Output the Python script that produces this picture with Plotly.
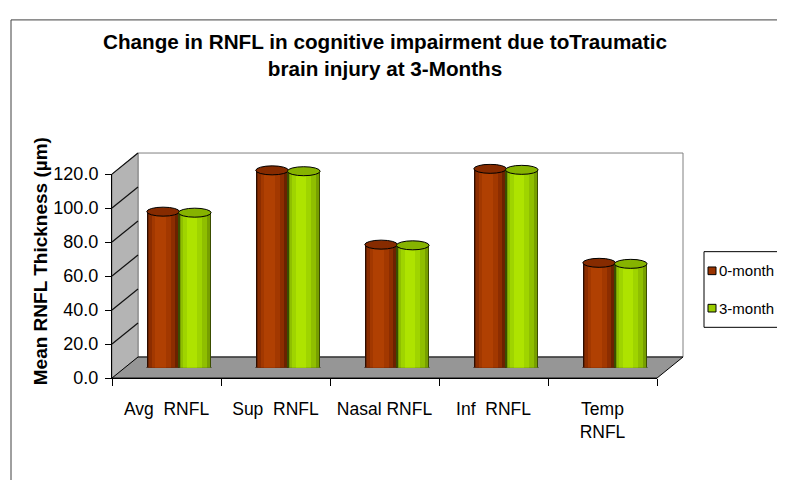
import plotly.graph_objects as go

# data
categories = ["Avg\u00a0 RNFL", "Sup\u00a0 RNFL", "Nasal RNFL", "Inf\u00a0 RNFL", "Temp<br>RNFL"]
series_names = ["0-month", "3-month"]
month0 = [91.7, 116.0, 72.3, 116.9, 61.6]
month3 = [91.1, 115.5, 71.9, 116.3, 61.0]
y_ticks = [0, 20, 40, 60, 80, 100, 120]

title_text = "Change in RNFL in cognitive impairment due toTraumatic<br>brain injury at 3-Months"
y_title = "Mean RNFL Thickness (µm)"

FONT = "Liberation Sans, Arial, sans-serif"
PAGE = 8  # the html body margin shifts the figure by 8px
W, H = 785 - 2 * PAGE, 488 - 2 * PAGE  # keep the figure inside the page body

def px(x):
    return (x - PAGE) / W

def py(y):
    return 1 - (y - PAGE) / H

# 3d box geometry (screen pixels): front plane, depth offset, bar plane halfway
FX0, FX1, FY0, FY1 = 112, 657, 384, 171
DX, DY = 26, -22
BX, BY = 13, -11

# cylinder shading strips: (width fraction, shift fraction, colour)
red_layers = [(1.0, 0.0, "#2e0d00"), (0.92, 0.0, "#6a2200"), (0.78, -0.03, "#8c2d00"),
              (0.58, -0.06, "#a23800"), (0.32, -0.08, "#b04002")]
green_layers = [(1.0, 0.0, "#3a4d00"), (0.92, 0.0, "#779f00"), (0.78, -0.03, "#8fbf00"),
                (0.58, -0.06, "#9fd400"), (0.32, -0.08, "#aee300")]
series = [
    dict(name=series_names[0], vals=month0, off=-0.30, w=0.30, layers=red_layers,
         top="#862b00", bottom="#7a2700", key="#993300"),
    dict(name=series_names[1], vals=month3, off=-0.01, w=0.30, layers=green_layers,
         top="#86b300", bottom="#80aa00", key="#99cc00"),
]

fig = go.Figure()

# invisible trace that carries the front axes (category labels and value ticks)
fig.add_trace(go.Scatter(x=categories, y=month0, mode="markers", marker=dict(opacity=0),
                         showlegend=False, hoverinfo="skip"))

for s in series:
    for wf, sh, col in s["layers"]:
        fig.add_trace(go.Bar(
            x=categories, y=s["vals"], xaxis="x3", yaxis="y3",
            offset=s["off"] + (1 - wf) / 2 * s["w"] + sh * s["w"],
            width=wf * s["w"],
            marker=dict(color=col, line=dict(width=0)),
            showlegend=False, hoverinfo="skip",
        ))

shapes = []
# outer chart border
shapes.append(dict(type="rect", xref="paper", yref="paper", x0=px(11), x1=px(800),
                   y0=py(505), y1=py(10), line=dict(color="#404040", width=1), layer="below"))
# back wall
shapes.append(dict(type="rect", xref="paper", yref="paper", x0=px(FX0 + DX), x1=px(FX1 + DX),
                   y0=py(FY0 + DY), y1=py(FY1 + DY), fillcolor="white",
                   line=dict(color="#808080", width=1), layer="below"))
# left side wall
shapes.append(dict(type="path", xref="paper", yref="paper", layer="below",
                   path=f"M {px(FX0)} {py(FY0)} L {px(FX0)} {py(FY1)} L {px(FX0 + DX)} {py(FY1 + DY)} "
                        f"L {px(FX0 + DX)} {py(FY0 + DY)} Z",
                   fillcolor="#b4b4b4", line=dict(color="#808080", width=1)))
# floor
shapes.append(dict(type="path", xref="paper", yref="paper", layer="below",
                   path=f"M {px(FX0)} {py(FY0)} L {px(FX1)} {py(FY0)} L {px(FX1 + DX)} {py(FY0 + DY)} "
                        f"L {px(FX0 + DX)} {py(FY0 + DY)} Z",
                   fillcolor="#969696", line=dict(color="#000000", width=1)))
# side wall gridlines
ppu = (FY0 - FY1) / 120
for t in y_ticks[1:]:
    yf = FY0 - t * ppu
    shapes.append(dict(type="line", xref="paper", yref="paper", layer="between",
                       x0=px(FX0), y0=py(yf), x1=px(FX0 + DX), y1=py(yf + DY),
                       line=dict(color="#111111", width=1.2)))

# cylinder bottoms and tops
for s in series:
    for i, v in enumerate(s["vals"]):
        x0 = i + s["off"]
        shapes.append(dict(type="circle", xref="x3", yref="y3", x0=x0, x1=x0 + s["w"],
                           ysizemode="pixel", yanchor=0, y0=-4.5, y1=4.5,
                           fillcolor=s["bottom"], line=dict(color="#000000", width=1), layer="between"))
        shapes.append(dict(type="circle", xref="x3", yref="y3", x0=x0, x1=x0 + s["w"],
                           ysizemode="pixel", yanchor=v, y0=-4.5, y1=4.5,
                           fillcolor=s["top"], line=dict(color="#000000", width=1), layer="above"))

# legend box
LX, LT, LB = 704, 252, 331
shapes.append(dict(type="rect", xref="paper", yref="paper", x0=px(LX), x1=px(800),
                   y0=py(LB), y1=py(LT), line=dict(color="#000000", width=1), layer="above"))
annotations = []
for k, s in enumerate(series):
    yc = 272 + k * 39
    shapes.append(dict(type="rect", xref="paper", yref="paper", x0=px(708), x1=px(716),
                       y0=py(yc + 4), y1=py(yc - 4), fillcolor=s["key"],
                       line=dict(color="#000000", width=1), layer="above"))
    annotations.append(dict(xref="paper", yref="paper", x=px(717), y=py(yc), text=s["name"],
                            showarrow=False, xanchor="left", yanchor="middle",
                            font=dict(family=FONT, size=15, color="#000000")))

# value axis title, centred on the whole 3d box
annotations.append(dict(xref="paper", yref="paper", x=px(40), y=py(262), text=y_title,
                        textangle=-90, showarrow=False, xanchor="center", yanchor="middle",
                        font=dict(family=FONT, size=19, weight="bold", color="#000000")))

fig.update_layout(
    width=W, height=H,
    margin=dict(l=0, r=0, t=0, b=0),
    paper_bgcolor="white", plot_bgcolor="rgba(0,0,0,0)",
    barmode="overlay", bargap=0,
    showlegend=False,
    font=dict(family=FONT, color="#000000"),
    title=dict(text=title_text, x=px(385), xanchor="center", y=py(49), yanchor="middle",
               font=dict(family=FONT, size=20.7, weight="bold", color="#000000")),
    xaxis=dict(domain=[px(FX0), px(FX1)], anchor="y", type="category", range=[-0.5, 4.5],
               categoryorder="array", categoryarray=categories,
               tickson="boundaries", ticks="outside", ticklen=7, tickcolor="#000000",
               showline=True, linecolor="#000000", showgrid=False, zeroline=False,
               tickfont=dict(size=17.5), ticklabelstandoff=15, fixedrange=True),
    yaxis=dict(domain=[py(FY0), py(FY1)], anchor="x", range=[0, 120], tickvals=y_ticks,
               tickformat=".1f", ticks="outside", ticklen=6, tickcolor="#000000",
               showline=True, linecolor="#000000", showgrid=False, zeroline=False,
               tickfont=dict(size=18), ticklabelstandoff=3, fixedrange=True),
    xaxis2=dict(domain=[px(FX0 + DX), px(FX1 + DX)], anchor="y2", range=[-0.5, 4.5],
                visible=False, showgrid=False),
    yaxis2=dict(domain=[py(FY0 + DY), py(FY1 + DY)], anchor="x2", range=[0, 120],
                tickvals=y_ticks, showgrid=True, gridcolor="#111111", gridwidth=1.2,
                showticklabels=False, ticks="", showline=False, zeroline=False),
    xaxis3=dict(domain=[px(FX0 + BX), px(FX1 + BX)], anchor="y3", type="category",
                range=[-0.5, 4.5], visible=False),
    yaxis3=dict(domain=[py(FY0 + BY), py(FY1 + BY)], anchor="x3", range=[0, 120],
                visible=False),
    shapes=shapes,
    annotations=annotations,
)

fig.write_html("out.html")
